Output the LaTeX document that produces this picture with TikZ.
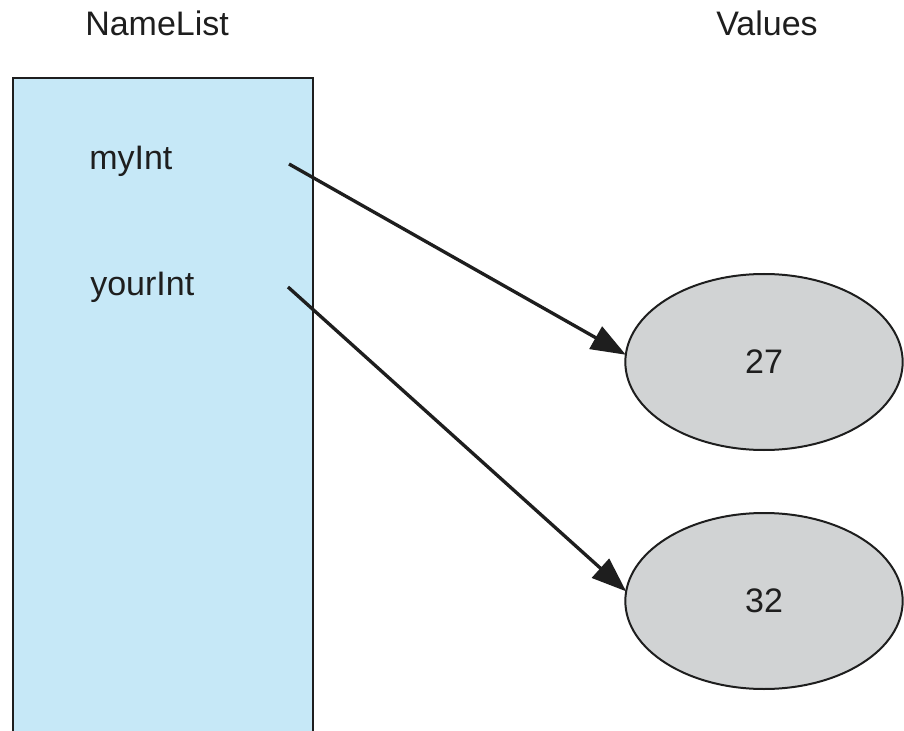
\documentclass[tikz,border=0pt]{standalone}
\usepackage{fontspec}
\setmainfont{Liberation Sans}
\usetikzlibrary{shapes.geometric,arrows.meta}
\definecolor{listblue}{HTML}{C6E8F7}
\definecolor{valgray}{HTML}{D1D3D4}
\definecolor{ink}{HTML}{1E1E1E}
\tikzset{
  lbl/.style={anchor=base west,inner sep=0pt,font=\fontsize{25.5}{30}\selectfont,text=ink},
  valnode/.style={ellipse,draw=ink,line width=1.5pt,fill=valgray,minimum width=208pt,minimum height=132pt,inner sep=0pt,outer sep=0pt,font=\fontsize{25.5}{30}\selectfont,text=ink},
  ptr/.style={draw=ink,line width=2.5pt,-{Triangle[length=26pt,width=19pt]}},
}
\begin{document}
\begin{tikzpicture}[x=0.75pt,y=-0.75pt]
\useasboundingbox (0,0) rectangle (904,731);
\draw[ink,line width=2.1pt,fill=listblue] (13,760) -- (13,78) -- (313,78) -- (313,760);
\node[lbl] (nl) at (85,36) {NameList};
\node[lbl] (vl) at (716,36) {Values};
\node[lbl] (mi) at (89,170) {myInt};
\node[lbl] (yi) at (90,296) {yourInt};
\node[valnode] (e1) at (764,362) {27};
\node[valnode] (e2) at (764,601) {32};
\coordinate (a1) at (289,164);
\coordinate (a2) at (288,287);
\draw[ptr] (a1) -- (e1.177);
\draw[ptr] (a2) -- (e2.176);
\end{tikzpicture}
\end{document}
